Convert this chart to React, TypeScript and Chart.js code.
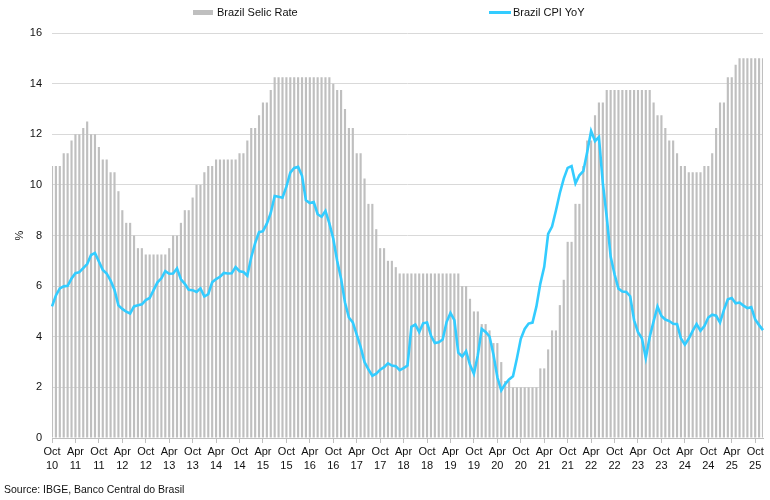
import React, { useEffect, useRef } from "react";
import { Chart, registerables } from "chart.js";

Chart.register(...registerables);

const START_YEAR = 2010;
const START_MONTH = 9; // October
const MONTH_NAMES = ["Jan", "Feb", "Mar", "Apr", "May", "Jun", "Jul", "Aug", "Sep", "Oct", "Nov", "Dec"];
const TICK_MONTHS = ["Apr", "Oct"];
const Y_TICKS = [0, 2, 4, 6, 8, 10, 12, 14, 16];

// Brazil Selic Rate (%), monthly Oct 2010 - Dec 2025
const selicRate: number[] = [
  10.75, 10.75, 10.75,
  11.25, 11.25, 11.75, 12.0, 12.0, 12.25, 12.5, 12.0, 12.0, 11.5, 11.0, 11.0,
  10.5, 10.5, 9.75, 9.0, 8.5, 8.5, 8.0, 7.5, 7.5, 7.25, 7.25, 7.25,
  7.25, 7.25, 7.25, 7.5, 8.0, 8.0, 8.5, 9.0, 9.0, 9.5, 10.0, 10.0,
  10.5, 10.75, 10.75, 11.0, 11.0, 11.0, 11.0, 11.0, 11.0, 11.25, 11.25, 11.75,
  12.25, 12.25, 12.75, 13.25, 13.25, 13.75, 14.25, 14.25, 14.25, 14.25, 14.25, 14.25,
  14.25, 14.25, 14.25, 14.25, 14.25, 14.25, 14.25, 14.25, 14.25, 14.0, 13.75, 13.75,
  13.0, 12.25, 12.25, 11.25, 11.25, 10.25, 9.25, 9.25, 8.25, 7.5, 7.5, 7.0,
  7.0, 6.75, 6.5, 6.5, 6.5, 6.5, 6.5, 6.5, 6.5, 6.5, 6.5, 6.5,
  6.5, 6.5, 6.5, 6.5, 6.5, 6.5, 6.0, 6.0, 5.5, 5.0, 5.0, 4.5,
  4.5, 4.25, 3.75, 3.75, 3.0, 2.25, 2.25, 2.0, 2.0, 2.0, 2.0, 2.0,
  2.0, 2.0, 2.75, 2.75, 3.5, 4.25, 4.25, 5.25, 6.25, 7.75, 7.75, 9.25,
  9.25, 10.75, 11.75, 11.75, 12.75, 13.25, 13.25, 13.75, 13.75, 13.75, 13.75, 13.75,
  13.75, 13.75, 13.75, 13.75, 13.75, 13.75, 13.75, 13.25, 12.75, 12.75, 12.25, 11.75,
  11.75, 11.25, 10.75, 10.75, 10.5, 10.5, 10.5, 10.5, 10.75, 10.75, 11.25, 12.25,
  13.25, 13.25, 14.25, 14.25, 14.75, 15.0, 15.0, 15.0, 15.0, 15.0, 15.0, 15.0,
];

// Brazil CPI YoY (%), monthly Oct 2010 - Dec 2025
const cpiYoY: number[] = [
  5.2, 5.63, 5.91,
  5.99, 6.01, 6.3, 6.51, 6.55, 6.71, 6.87, 7.23, 7.31, 6.97, 6.64, 6.5,
  6.22, 5.85, 5.24, 5.1, 4.99, 4.92, 5.2, 5.24, 5.28, 5.45, 5.53, 5.84,
  6.15, 6.31, 6.59, 6.49, 6.5, 6.7, 6.27, 6.09, 5.86, 5.84, 5.77, 5.91,
  5.59, 5.68, 6.15, 6.28, 6.37, 6.52, 6.5, 6.51, 6.75, 6.59, 6.56, 6.41,
  7.14, 7.7, 8.13, 8.17, 8.47, 8.89, 9.56, 9.53, 9.49, 9.93, 10.48, 10.67,
  10.71, 10.36, 9.39, 9.28, 9.32, 8.84, 8.74, 8.97, 8.48, 7.87, 6.99, 6.29,
  5.35, 4.76, 4.57, 4.08, 3.6, 3.0, 2.71, 2.46, 2.54, 2.7, 2.8, 2.95,
  2.86, 2.84, 2.68, 2.76, 2.86, 4.39, 4.48, 4.19, 4.53, 4.56, 4.05, 3.75,
  3.78, 3.89, 4.58, 4.94, 4.66, 3.37, 3.22, 3.43, 2.89, 2.54, 3.27, 4.31,
  4.19, 4.01, 3.3, 2.4, 1.88, 2.13, 2.31, 2.44, 3.14, 3.92, 4.31, 4.52,
  4.56, 5.2, 6.1, 6.76, 8.06, 8.35, 8.99, 9.68, 10.25, 10.67, 10.74, 10.06,
  10.38, 10.54, 11.3, 12.13, 11.73, 11.89, 10.07, 8.73, 7.17, 6.47, 5.9, 5.79,
  5.77, 5.6, 4.65, 4.18, 3.94, 3.16, 3.99, 4.61, 5.19, 4.82, 4.68, 4.62,
  4.51, 4.5, 3.93, 3.69, 3.93, 4.23, 4.5, 4.24, 4.42, 4.76, 4.87, 4.83,
  4.56, 5.06, 5.48, 5.53, 5.32, 5.35, 5.23, 5.13, 5.17, 4.68, 4.46, 4.26,
];

const months: string[] = selicRate.map((_, i) => {
  const m = (START_MONTH + i) % 12;
  const y = START_YEAR + Math.floor((START_MONTH + i) / 12);
  return `${MONTH_NAMES[m]} ${String(y).slice(2)}`;
});

const FONT = "'Liberation Sans', Arial, Helvetica, sans-serif";
const BAR_COLOR = "#bfbfbf";
const LINE_COLOR = "#33ccff";

export default function App() {
  const canvasRef = useRef<HTMLCanvasElement | null>(null);

  useEffect(() => {
    if (!canvasRef.current) return;
    const chart = new Chart(canvasRef.current, {
      type: "bar",
      data: {
        labels: months,
        datasets: [
          {
            type: "line",
            label: "Brazil CPI YoY",
            data: cpiYoY,
            borderColor: LINE_COLOR,
            backgroundColor: LINE_COLOR,
            borderWidth: 2.6,
            pointRadius: 0,
            tension: 0,
            order: 0,
          } as any,
          {
            type: "bar",
            label: "Brazil Selic Rate",
            data: selicRate,
            backgroundColor: BAR_COLOR,
            borderWidth: 0,
            barPercentage: 0.55,
            categoryPercentage: 1,
            order: 1,
          },
        ],
      },
      options: {
        responsive: false,
        animation: false,
        layout: { padding: { top: 33, right: 7, left: 0, bottom: 22 } },
        plugins: {
          legend: { display: false },
          tooltip: { enabled: false },
        },
        scales: {
          x: {
            offset: false,
            grid: {
              offset: false,
              drawOnChartArea: false,
              drawTicks: true,
              tickLength: 5,
              color: "#bfbfbf",
            },
            border: { display: true, color: "#bfbfbf" },
            ticks: {
              autoSkip: false,
              maxRotation: 0,
              minRotation: 0,
              padding: 2,
              color: "#111",
              font: { family: FONT, size: 11, lineHeight: 1.27 },
              callback: (_v: any, index: number) => {
                const [m, y] = months[index].split(" ");
                return TICK_MONTHS.includes(m) ? [m, y] : null;
              },
            },
            afterFit: (scale: any) => {
              scale.height = 40;
            },
          },
          y: {
            min: Y_TICKS[0],
            max: Y_TICKS[Y_TICKS.length - 1],
            grid: { color: "#d9d9d9", drawTicks: false },
            border: { display: false },
            ticks: {
              stepSize: 2,
              padding: 10,
              color: "#111",
              font: { family: FONT, size: 11 },
            },
            title: {
              display: true,
              text: "%",
              color: "#111",
              font: { family: FONT, size: 11 },
              padding: { top: 13, bottom: 0 },
            },
            afterFit: (scale: any) => {
              scale.width = 52;
            },
          },
        },
      },
    });
    return () => chart.destroy();
  }, []);

  return (
    <div style={{ position: "absolute", left: 0, top: 0, width: 770, height: 500, background: "#fff", fontFamily: FONT }}>
      <canvas ref={canvasRef} width={770} height={500} style={{ position: "absolute", left: 0, top: 0 }} />
      <div style={{ position: "absolute", left: 193, top: 5, height: 14, display: "flex", alignItems: "center", fontSize: 11, color: "#111", whiteSpace: "nowrap" }}>
        <span style={{ display: "inline-block", width: 20, height: 5, background: BAR_COLOR, marginRight: 4 }} />
        <span>Brazil Selic Rate</span>
      </div>
      <div style={{ position: "absolute", left: 489, top: 5, height: 14, display: "flex", alignItems: "center", fontSize: 11, color: "#111", whiteSpace: "nowrap" }}>
        <span style={{ display: "inline-block", width: 22, height: 3, background: LINE_COLOR, marginRight: 2 }} />
        <span>Brazil CPI YoY</span>
      </div>
      <div style={{ position: "absolute", left: 4, top: 483, fontSize: 10.5, color: "#111", whiteSpace: "nowrap" }}>
        Source: IBGE, Banco Central do Brasil
      </div>
    </div>
  );
}
